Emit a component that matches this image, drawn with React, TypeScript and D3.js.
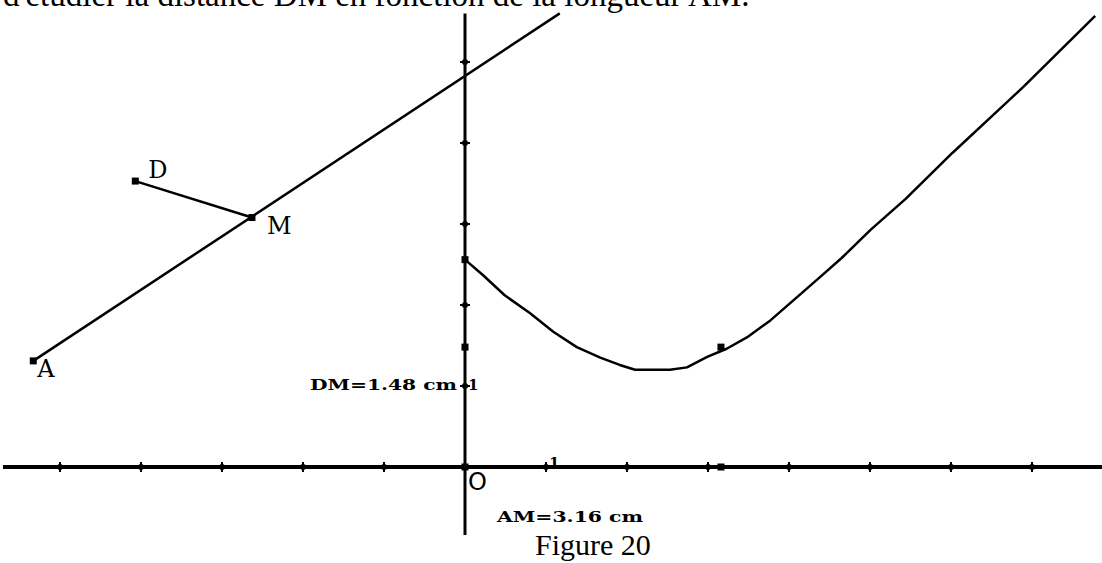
import React from 'react';
import * as d3 from 'd3';

const heading = "d'étudier la distance DM en fonction de la longueur AM.";
const caption = 'Figure 20';

const xTicks = [-5, -4, -3, -2, -1, 0, 1, 2, 3, 4, 5, 6, 7];
const yTicks = [1, 2, 3, 4, 5];

// construction points, in graph units
const pointNames = ['A', 'D', 'M'];
const pointX = [-5.33, -4.07, -2.63];
const pointY = [1.31, 3.53, 3.08];

// the line (AM) runs from A up to this point
const lineEnd = [1.17, 5.6];

const AM = 3.16;
const DM = 1.48;
const DA = 2.56;

// DM as a function of AM
const curveAM = [0, 0.22, 0.49, 0.8, 1.09, 1.38, 1.67, 1.91, 2.1, 2.53, 2.74, 2.99, 3.23, 3.48, 3.77, 4.16, 4.4, 4.65, 5.01, 5.44, 6.02, 6.89, 7.78];
const curveDM = [2.56, 2.37, 2.12, 1.9, 1.67, 1.48, 1.35, 1.26, 1.2, 1.2, 1.23, 1.36, 1.46, 1.6, 1.81, 2.15, 2.36, 2.58, 2.93, 3.31, 3.88, 4.69, 5.57];

const W = 1102;
const H = 563;

export default function App() {
  const x = d3.scaleLinear().domain([0, 7]).range([465, 465 + 7 * 81]);
  const y = d3.scaleLinear().domain([0, 5]).range([467, 467 - 5 * 81]);

  const line = d3.line<[number, number]>().x(d => x(d[0])).y(d => y(d[1]));
  const curve = line(curveAM.map((v, i) => [v, curveDM[i]] as [number, number])) || '';
  const amLine = line([[pointX[0], pointY[0]], [lineEnd[0], lineEnd[1]]]) || '';
  const dmSeg = line([[pointX[1], pointY[1]], [pointX[2], pointY[2]]]) || '';

  const labelOffsets: Record<string, [number, number]> = { A: [4, 16], D: [13, -3], M: [15, 16] };

  const marker = (px: number, py: number, key: string) => (
    <rect key={key} x={px - 3.5} y={py - 3.5} width={7} height={7} fill="#000" />
  );

  const x0 = x.invert(3);
  const x1 = x.invert(W);

  return (
    <svg width={W} height={H} style={{ position: 'absolute', left: 0, top: 0, background: '#fff' }}>
      <text x={3} y={6} fontFamily="Liberation Serif, serif" fontSize={33} fill="#000">{heading}</text>

      {/* axes */}
      <line x1={x(x0)} x2={x(x1)} y1={y(0)} y2={y(0)} stroke="#000" strokeWidth={4} />
      <line x1={x(0)} x2={x(0)} y1={y(5.6)} y2={y(-0.84)} stroke="#000" strokeWidth={3} />
      {xTicks.map(t => (
        <g key={'xt' + t}>
          <line x1={x(t)} x2={x(t)} y1={y(0) - 5} y2={y(0) + 5} stroke="#000" strokeWidth={2} />
          <circle cx={x(t)} cy={y(0)} r={3} fill="#000" />
        </g>
      ))}
      {yTicks.map(t => (
        <g key={'yt' + t}>
          <line x1={x(0) - 5} x2={x(0) + 5} y1={y(t)} y2={y(t)} stroke="#000" strokeWidth={2} />
          <circle cx={x(0)} cy={y(t)} r={3} fill="#000" />
        </g>
      ))}

      {/* construction */}
      <path d={amLine} fill="none" stroke="#000" strokeWidth={2.5} />
      <path d={dmSeg} fill="none" stroke="#000" strokeWidth={2.5} />
      <path d={curve} fill="none" stroke="#000" strokeWidth={2.5} strokeLinejoin="round" />

      {pointNames.map((n, i) => marker(x(pointX[i]), y(pointY[i]), 'p' + n))}
      {marker(x(0), y(0), 'o')}
      {marker(x(0), y(DA), 'da')}
      {marker(x(0), y(DM), 'dm')}
      {marker(x(AM), y(0), 'am')}
      {marker(x(AM), y(DM), 'pt')}

      {pointNames.map((n, i) => (
        <text key={'l' + n} x={x(pointX[i]) + labelOffsets[n][0]} y={y(pointY[i]) + labelOffsets[n][1]}
          fontFamily="DejaVu Serif, serif" fontSize={24} fill="#000">{n}</text>
      ))}
      <text x={x(0) + 3} y={y(0) + 23} fontFamily="DejaVu Sans, sans-serif" fontSize={24} fill="#000">O</text>
      <text x={x(0) + 3} y={y(1) + 4} fontFamily="DejaVu Serif, serif" fontWeight="bold" fontSize={15} fill="#000">1</text>
      <text x={x(1) + 3} y={y(0) + 1} fontFamily="DejaVu Serif, serif" fontWeight="bold" fontSize={15} fill="#000">1</text>
      <text x={310} y={y(1) + 4} textLength={147} lengthAdjust="spacingAndGlyphs"
        fontFamily="DejaVu Serif, serif" fontWeight="bold" fontSize={15} fill="#000">{`DM=${DM} cm`}</text>
      <text x={497} y={522} textLength={146} lengthAdjust="spacingAndGlyphs"
        fontFamily="DejaVu Serif, serif" fontWeight="bold" fontSize={15} fill="#000">{`AM=${AM} cm`}</text>
      <text x={535} y={555} fontFamily="Liberation Serif, serif" fontSize={30} fill="#000">{caption}</text>
    </svg>
  );
}
